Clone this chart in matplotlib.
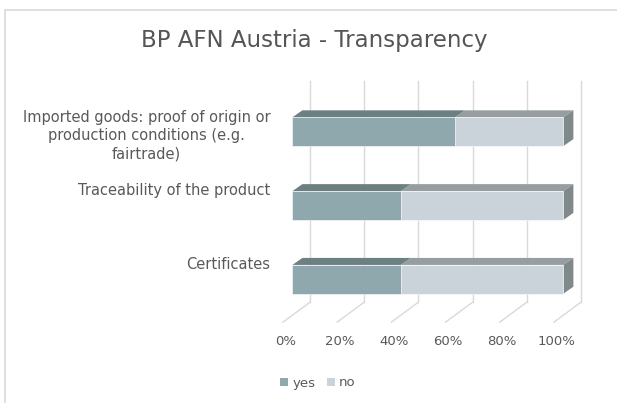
import matplotlib.pyplot as plt
from matplotlib.patches import Polygon, Patch, Rectangle

# data
categories = ['Certificates',
              'Traceability of the product',
              'Imported goods: proof of origin or\nproduction conditions (e.g.\nfairtrade)']
yes = [40, 40, 60]
no = [60, 60, 40]
ticks = [0, 20, 40, 60, 80, 100]
tick_labels = ['0%', '20%', '40%', '60%', '80%', '100%']

# colours
yes_front, yes_top = '#8FA8AE', '#6C8082'
no_front, no_top, no_side = '#CBD3DA', '#969EA0', '#7F898A'
grid_col = '#D9D9D9'
text_col = '#595959'

# fake 3d geometry (x in percent, y in category units)
half_h = 0.195
depth_dx, depth_dy = 3.7, 0.095
back_dx, back_floor, back_top = 6.5, -0.31, 2.69
front_dx, front_floor = -3.45, -0.58

fig = plt.figure(figsize=(6.17, 4.03), dpi=100)
ax = fig.add_axes([0, 0, 1, 1])
ax.set_xlim(-107.9, 119.8)
ax.set_ylim(-1.676, 3.785)
ax.axis('off')

# chart border
fig.patches.append(Rectangle((4.5 / 617, -0.05), 1.2, 1 - 10 / 403 + 0.05,
                             transform=fig.transFigure, fill=False,
                             edgecolor=grid_col, linewidth=1.2))

# back wall gridlines + floor lines
for t in ticks:
    ax.plot([t + back_dx, t + back_dx], [back_floor, back_top], color=grid_col, lw=1, zorder=1)
    ax.plot([t + back_dx, t + front_dx], [back_floor, front_floor], color=grid_col, lw=1, zorder=1)


def box(x0, x1, yc, front, top, side=None):
    y0, y1 = yc - half_h, yc + half_h
    ax.add_patch(Polygon([(x0, y1), (x1, y1), (x1 + depth_dx, y1 + depth_dy),
                          (x0 + depth_dx, y1 + depth_dy)], closed=True,
                         facecolor=top, edgecolor='none', zorder=3))
    if side is not None:
        ax.add_patch(Polygon([(x1, y0), (x1, y1), (x1 + depth_dx, y1 + depth_dy),
                              (x1 + depth_dx, y0 + depth_dy)], closed=True,
                             facecolor=side, edgecolor='none', zorder=3))
    ax.add_patch(Rectangle((x0, y0), x1 - x0, y1 - y0, facecolor=front,
                           edgecolor='white', linewidth=0.4, zorder=4))


for i, (y_, n_) in enumerate(zip(yes, no)):
    box(y_, y_ + n_, i, no_front, no_top, no_side)
    box(0, y_, i, yes_front, yes_top)

# category labels
for i, c in enumerate(categories):
    ax.text(-8.2, i + 0.3, c, ha='right', va='top', fontsize=10.5, color=text_col,
            multialignment='center', linespacing=1.3)

# tick labels
for t, lab in zip(ticks, tick_labels):
    ax.text(t + front_dx + 0.8, -0.846, lab, ha='center', va='center',
            fontsize=9.5, color=text_col)

fig.text(314 / 617, 1 - 40 / 403, 'BP AFN Austria - Transparency', ha='center',
         va='center', fontsize=16.5, color='#555555')

handles = [Patch(facecolor=yes_front, label='yes'), Patch(facecolor=no_front, label='no')]
leg = fig.legend(handles=handles, loc='center', bbox_to_anchor=(318 / 617, 1 - 383 / 403),
                 ncol=2, frameon=False, fontsize=9.5, handlelength=0.6, handleheight=0.6,
                 handletextpad=0.3, columnspacing=0.9)
for txt in leg.get_texts():
    txt.set_color(text_col)

fig.savefig('out.png', dpi=100)
